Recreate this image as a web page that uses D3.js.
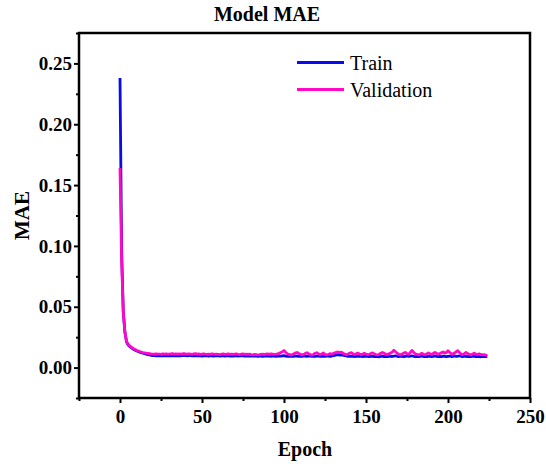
<!DOCTYPE html>
<html>
<head>
<meta charset="utf-8">
<script src="https://cdn.jsdelivr.net/npm/d3@7"></script>
<style>
  body { margin: 0; background: #fff; }
  svg { display: block; font-family: "Liberation Serif", "Times New Roman", serif; }
</style>
</head>
<body>
<div id="chart"></div>
<script>
// MAE per epoch
var trainMAE = [
  0.238, 0.095, 0.046, 0.029, 0.021, 0.0185, 0.0172, 0.0162, 0.0153, 0.0145, 0.0138, 0.0132, 0.0127, 0.0122, 0.0118,
  0.0114, 0.0110, 0.0107, 0.0104, 0.0101, 0.0099, 0.0098, 0.0097, 0.0098, 0.0096, 0.0097, 0.0098, 0.0096, 0.0097, 0.0099,
  0.0097, 0.0098, 0.0096, 0.0099, 0.0097, 0.0096, 0.0098, 0.0097, 0.0099, 0.0100, 0.0098, 0.0097, 0.0099, 0.0098, 0.0096,
  0.0097, 0.0099, 0.0096, 0.0098, 0.0097, 0.0095, 0.0097, 0.0096, 0.0098, 0.0095, 0.0096, 0.0097, 0.0095, 0.0096, 0.0098,
  0.0096, 0.0095, 0.0097, 0.0096, 0.0094, 0.0096, 0.0098, 0.0095, 0.0096, 0.0094, 0.0097, 0.0096, 0.0095, 0.0097, 0.0098,
  0.0096, 0.0094, 0.0097, 0.0095, 0.0096, 0.0094, 0.0095, 0.0097, 0.0094, 0.0093, 0.0095, 0.0094, 0.0092, 0.0094, 0.0096,
  0.0094, 0.0095, 0.0093, 0.0096, 0.0094, 0.0092, 0.0095, 0.0097, 0.0094, 0.0096, 0.0098, 0.0095, 0.0093, 0.0094, 0.0092,
  0.0095, 0.0093, 0.0096, 0.0094, 0.0092, 0.0095, 0.0093, 0.0096, 0.0094, 0.0092, 0.0094, 0.0096, 0.0093, 0.0095, 0.0092,
  0.0094, 0.0096, 0.0093, 0.0092, 0.0095, 0.0093, 0.0096, 0.0094, 0.0092, 0.0095, 0.0098, 0.0101, 0.0104, 0.0106, 0.0103,
  0.0105, 0.0102, 0.0099, 0.0096, 0.0093, 0.0095, 0.0092, 0.0094, 0.0091, 0.0093, 0.0095, 0.0092, 0.0094, 0.0091, 0.0093,
  0.0095, 0.0092, 0.0091, 0.0094, 0.0092, 0.0090, 0.0093, 0.0091, 0.0089, 0.0092, 0.0094, 0.0091, 0.0093, 0.0090, 0.0092,
  0.0094, 0.0091, 0.0095, 0.0097, 0.0093, 0.0091, 0.0094, 0.0092, 0.0090, 0.0093, 0.0096, 0.0092, 0.0094, 0.0097, 0.0093,
  0.0091, 0.0093, 0.0090, 0.0092, 0.0095, 0.0091, 0.0093, 0.0090, 0.0092, 0.0094, 0.0091, 0.0093, 0.0096, 0.0092, 0.0090,
  0.0093, 0.0091, 0.0094, 0.0092, 0.0090, 0.0093, 0.0095, 0.0091, 0.0093, 0.0096, 0.0092, 0.0094, 0.0097, 0.0093, 0.0091,
  0.0094, 0.0092, 0.0090, 0.0093, 0.0091, 0.0094, 0.0092, 0.0090, 0.0093, 0.0091, 0.0089, 0.0092, 0.0090, 0.0091, 0.0090
];
var valMAE = [
  0.164, 0.088, 0.045, 0.029, 0.0215, 0.0192, 0.0178, 0.0167, 0.0158, 0.0150, 0.0143, 0.0137, 0.0132, 0.0128, 0.0124,
  0.0121, 0.0118, 0.0116, 0.0114, 0.0112, 0.0111, 0.0110, 0.0112, 0.0110, 0.0111, 0.0109, 0.0112, 0.0110, 0.0113, 0.0111,
  0.0110, 0.0112, 0.0114, 0.0111, 0.0113, 0.0110, 0.0112, 0.0111, 0.0113, 0.0115, 0.0112, 0.0110, 0.0113, 0.0111, 0.0109,
  0.0112, 0.0114, 0.0110, 0.0112, 0.0109, 0.0111, 0.0113, 0.0110, 0.0108, 0.0111, 0.0109, 0.0112, 0.0110, 0.0108, 0.0111,
  0.0109, 0.0107, 0.0110, 0.0112, 0.0108, 0.0110, 0.0113, 0.0109, 0.0111, 0.0108, 0.0110, 0.0112, 0.0109, 0.0107, 0.0110,
  0.0112, 0.0109, 0.0111, 0.0108, 0.0110, 0.0107, 0.0105, 0.0108, 0.0106, 0.0104, 0.0106, 0.0109, 0.0111, 0.0107, 0.0110,
  0.0112, 0.0109, 0.0113, 0.0111, 0.0108, 0.0110, 0.0113, 0.0117, 0.0123, 0.0131, 0.0140, 0.0126, 0.0114, 0.0108, 0.0104,
  0.0107, 0.0113, 0.0121, 0.0124, 0.0116, 0.0109, 0.0105, 0.0108, 0.0115, 0.0122, 0.0113, 0.0106, 0.0103, 0.0108, 0.0118,
  0.0122, 0.0112, 0.0105, 0.0111, 0.0120, 0.0109, 0.0104, 0.0107, 0.0115, 0.0110, 0.0116, 0.0122, 0.0126, 0.0128, 0.0123,
  0.0127, 0.0118, 0.0112, 0.0106, 0.0111, 0.0118, 0.0123, 0.0114, 0.0108, 0.0113, 0.0119, 0.0112, 0.0107, 0.0111, 0.0117,
  0.0111, 0.0106, 0.0109, 0.0116, 0.0121, 0.0113, 0.0107, 0.0104, 0.0110, 0.0118, 0.0124, 0.0117, 0.0110, 0.0106, 0.0113,
  0.0120, 0.0127, 0.0142, 0.0130, 0.0118, 0.0108, 0.0104, 0.0111, 0.0119, 0.0124, 0.0114, 0.0109, 0.0124, 0.0141, 0.0126,
  0.0114, 0.0108, 0.0104, 0.0110, 0.0117, 0.0110, 0.0105, 0.0113, 0.0121, 0.0113, 0.0108, 0.0116, 0.0124, 0.0117, 0.0110,
  0.0115, 0.0122, 0.0129, 0.0119, 0.0124, 0.0138, 0.0126, 0.0115, 0.0110, 0.0120, 0.0130, 0.0139, 0.0124, 0.0112, 0.0106,
  0.0115, 0.0124, 0.0115, 0.0108, 0.0104, 0.0111, 0.0118, 0.0111, 0.0107, 0.0113, 0.0108, 0.0104, 0.0107, 0.0103, 0.0101
];
var xTicks = [0, 50, 100, 150, 200, 250];
var xMinor = [-25, 25, 75, 125, 175, 225];
var yTicks = [0, 0.05, 0.10, 0.15, 0.20, 0.25];
var yMinor = [-0.025, 0.025, 0.075, 0.125, 0.175, 0.225, 0.275];
var seriesNames = ["Train", "Validation"];
var seriesColors = ["#0a0aee", "#ff08c8"];

drawChart();

function drawChart() {
    var width = 546, height = 464;
    var plotLeft = 79, plotRight = 530, plotTop = 33, plotBottom = 398;

    var svg = d3.select("#chart").append("svg")
        .attr("width", width)
        .attr("height", height);

    var x = d3.scaleLinear().domain([-25, 250]).range([plotLeft, plotRight]);
    var y = d3.scaleLinear().domain([-0.025, 0.275]).range([plotBottom, plotTop]);

    // axes with outward ticks
    svg.append("g")
        .attr("transform", "translate(0," + plotBottom + ")")
        .call(d3.axisBottom(x).tickValues(xTicks).tickSize(5).tickPadding(7).tickFormat(d3.format("d")));
    svg.append("g")
        .attr("transform", "translate(0," + plotBottom + ")")
        .call(d3.axisBottom(x).tickValues(xMinor).tickSize(3).tickFormat(""));
    svg.append("g")
        .attr("transform", "translate(" + plotLeft + ",0)")
        .call(d3.axisLeft(y).tickValues(yTicks).tickSize(5).tickPadding(2).tickFormat(d3.format(".2f")));
    svg.append("g")
        .attr("transform", "translate(" + plotLeft + ",0)")
        .call(d3.axisLeft(y).tickValues(yMinor).tickSize(3).tickFormat(""));

    svg.selectAll(".domain").remove();
    svg.selectAll(".tick line").attr("stroke", "#000").attr("stroke-width", 2);
    svg.selectAll(".tick text")
        .attr("fill", "#000")
        .style("font-family", "Liberation Serif")
        .style("font-size", "19px")
        .style("font-weight", "bold");

    // lines
    var line = d3.line()
        .x(function(d, i) { return x(i); })
        .y(function(d) { return y(d); });

    [trainMAE, valMAE].forEach(function(series, k) {
        svg.append("path")
            .datum(series)
            .attr("fill", "none")
            .attr("stroke", seriesColors[k])
            .attr("stroke-width", 2.8)
            .attr("stroke-linejoin", "round")
            .attr("d", line);
    });

    // frame
    svg.append("rect")
        .attr("x", plotLeft)
        .attr("y", plotTop)
        .attr("width", plotRight - plotLeft)
        .attr("height", plotBottom - plotTop)
        .attr("fill", "none")
        .attr("stroke", "#000")
        .attr("stroke-width", 2.5);

    // legend
    var legend = svg.append("g");
    seriesNames.forEach(function(name, k) {
        var ly = 62.5 + k * 27;
        legend.append("line")
            .attr("x1", 297).attr("x2", 344)
            .attr("y1", ly).attr("y2", ly)
            .attr("stroke", seriesColors[k])
            .attr("stroke-width", 3);
        legend.append("text")
            .attr("x", 350)
            .attr("y", ly + 7)
            .style("font-size", "20px")
            .text(name);
    });

    // titles
    svg.append("text")
        .attr("x", 267).attr("y", 21)
        .attr("text-anchor", "middle")
        .style("font-size", "20px")
        .style("font-weight", "bold")
        .text("Model MAE");

    svg.append("text")
        .attr("x", 305).attr("y", 456)
        .attr("text-anchor", "middle")
        .style("font-size", "20px")
        .style("font-weight", "bold")
        .text("Epoch");

    svg.append("text")
        .attr("transform", "translate(29," + ((plotTop + plotBottom) / 2) + ") rotate(-90)")
        .attr("text-anchor", "middle")
        .style("font-size", "21px")
        .style("font-weight", "bold")
        .text("MAE");
}
</script>
</body>
</html>
